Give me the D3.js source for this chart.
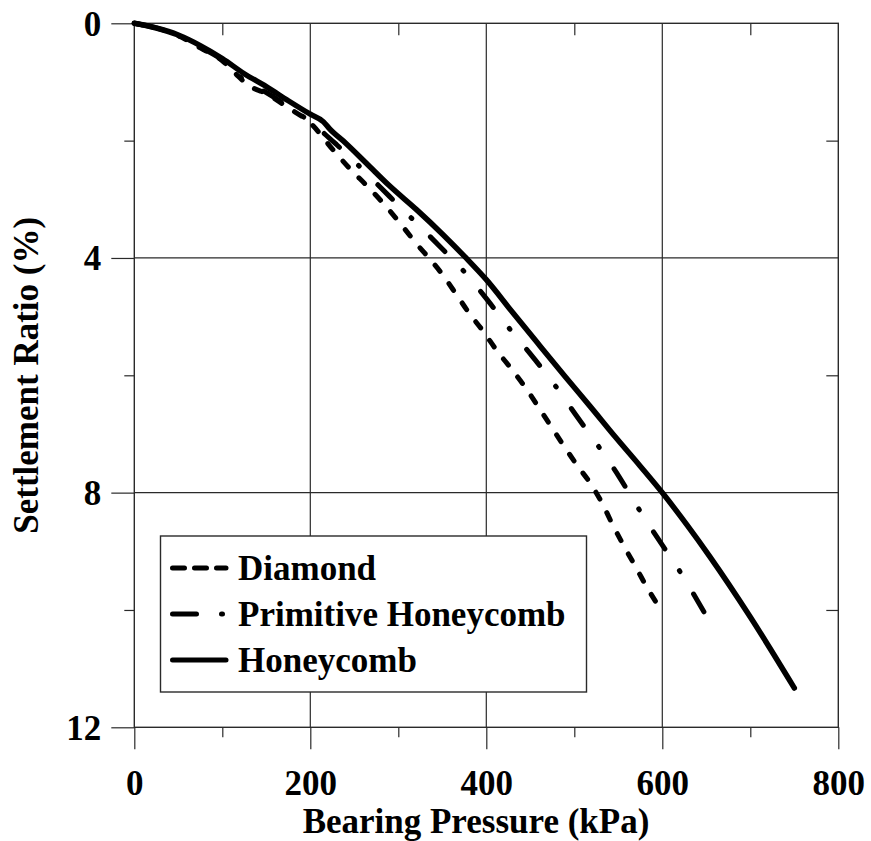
<!DOCTYPE html>
<html>
<head>
<meta charset="utf-8">
<script src="https://cdn.jsdelivr.net/npm/d3@7"></script>
<style>
  html, body { margin: 0; padding: 0; background: #fff; }
  svg { display: block; }
  text { font-family: "Liberation Serif", "Times New Roman", serif; font-weight: bold; fill: #000; }
</style>
</head>
<body>
<svg id="chart" width="871" height="841"></svg>
<script>
// Bearing pressure (kPa) vs settlement ratio (%) for three cell geometries
const diamondPressure = [0, 25, 50, 75, 100, 118, 128, 150, 175, 200, 226, 245, 265, 283, 300, 317, 351, 365, 380, 397, 412, 429, 445, 460, 474, 488, 503, 520, 533, 542, 556, 571, 582, 601];
const diamondSettle   = [0, 0.08, 0.21, 0.42, 0.64, 0.9, 1.04, 1.2, 1.44, 1.7, 2.16, 2.48, 2.78, 3.07, 3.37, 3.69, 4.3, 4.6, 4.93, 5.26, 5.58, 5.9, 6.22, 6.56, 6.88, 7.2, 7.53, 7.88, 8.22, 8.5, 8.9, 9.3, 9.6, 10.05];

const primitivePressure = [0, 25, 50, 75, 100, 118, 128, 150, 175, 200, 230, 256, 290, 317, 347, 374, 401, 425, 453, 479, 501, 527, 551, 570, 594, 619, 648];
const primitiveSettle   = [0, 0.08, 0.21, 0.41, 0.63, 0.88, 1.0, 1.18, 1.42, 1.68, 2.07, 2.44, 2.95, 3.35, 3.8, 4.22, 4.71, 5.18, 5.69, 6.19, 6.66, 7.2, 7.73, 8.2, 8.76, 9.32, 10.05];

const honeycombPressure = [0, 25, 50, 75, 100, 125, 150, 175, 200, 215, 222, 240, 264, 290, 321, 350, 377, 400, 430, 461, 490, 518, 546, 575, 601, 628, 654, 700, 750];
const honeycombSettle   = [0, 0.08, 0.2, 0.38, 0.6, 0.86, 1.08, 1.32, 1.55, 1.68, 1.8, 2.04, 2.39, 2.77, 3.18, 3.59, 4.0, 4.37, 4.93, 5.5, 6.03, 6.53, 7.04, 7.55, 8.02, 8.55, 9.09, 10.12, 11.33];

const seriesNames = ["Diamond", "Primitive Honeycomb", "Honeycomb"];
const xTicks = [0, 200, 400, 600, 800];
const xMinorTicks = [100, 300, 500, 700];
const yTicks = [0, 4, 8, 12];
const yMinorTicks = [2, 6, 10];

const series = [
  { name: seriesNames[0], x: diamondPressure, y: diamondSettle, dash: "8,15.2", width: 5, legendDash: "12,10" },
  { name: seriesNames[1], x: primitivePressure, y: primitiveSettle, dash: "20.5,26.3,1,26.3", width: 5, legendDash: "24,25,1,30" },
  { name: seriesNames[2], x: honeycombPressure, y: honeycombSettle, dash: null, width: 5.5, legendDash: null }
];

const svg = d3.select("#chart");
const plotLeft = 134.3, plotRight = 838.3, plotTop = 23.3, plotBottom = 727.3;

const x = d3.scaleLinear().domain([0, 800]).range([plotLeft, plotRight]);
const y = d3.scaleLinear().domain([0, 12]).range([plotTop, plotBottom]);

const gridColor = "#2a2a2a";

// Gridlines at the major ticks
const grid = svg.append("g").attr("stroke", gridColor).attr("stroke-width", 1.2);
grid.selectAll(".gx").data(xTicks.slice(1, -1)).join("line")
  .attr("x1", d => x(d)).attr("x2", d => x(d)).attr("y1", plotTop).attr("y2", plotBottom);
grid.selectAll(".gy").data(yTicks.slice(1, -1)).join("line")
  .attr("y1", d => y(d)).attr("y2", d => y(d)).attr("x1", plotLeft).attr("x2", plotRight);

// Frame around the plot area
svg.append("rect")
  .attr("x", plotLeft).attr("y", plotTop).attr("width", plotRight - plotLeft).attr("height", plotBottom - plotTop)
  .attr("fill", "none").attr("stroke", gridColor).attr("stroke-width", 1.4);

function styleTicks(g) {
  g.select(".domain").remove();
  g.selectAll(".tick line").attr("stroke", gridColor).attr("stroke-width", 1.2);
  g.selectAll(".tick text").attr("font-size", 35).attr("font-family", "Liberation Serif")
    .attr("font-weight", "bold").attr("fill", "#000");
}

// Bottom axis: long outward major ticks, short minor ticks
const gx = svg.append("g").attr("transform", `translate(0,${plotBottom})`)
  .call(d3.axisBottom(x).tickValues(xTicks).tickSize(22).tickPadding(22).tickFormat(d3.format("d")))
  .call(styleTicks);
gx.selectAll(".tick text").attr("y", 43).attr("dy", "0.71em");

svg.append("g").attr("transform", `translate(0,${plotBottom})`)
  .call(d3.axisBottom(x).tickValues(xMinorTicks).tickSize(10).tickFormat(""))
  .call(styleTicks);

svg.append("g").attr("transform", `translate(0,${plotTop})`)
  .call(d3.axisBottom(x).tickValues(xMinorTicks).tickSize(12).tickFormat(""))
  .call(styleTicks);

// Left axis
const gy = svg.append("g").attr("transform", `translate(${plotLeft},0)`)
  .call(d3.axisLeft(y).tickValues(yTicks).tickSize(23).tickPadding(10).tickFormat(d3.format("d")))
  .call(styleTicks);
gy.selectAll(".tick text").attr("x", -33).attr("dy", "0.34em");

svg.append("g").attr("transform", `translate(${plotLeft},0)`)
  .call(d3.axisLeft(y).tickValues(yMinorTicks).tickSize(10).tickFormat(""))
  .call(styleTicks);

svg.append("g").attr("transform", `translate(${plotRight},0)`)
  .call(d3.axisLeft(y).tickValues(yMinorTicks).tickSize(12).tickFormat(""))
  .call(styleTicks);

// Axis titles
svg.append("text").attr("x", 476).attr("y", 833).attr("text-anchor", "middle")
  .attr("font-size", 35).text("Bearing Pressure (kPa)");
svg.append("text").attr("transform", `translate(38,${(plotTop + plotBottom) / 2}) rotate(-90)`)
  .attr("text-anchor", "middle").attr("font-size", 35).text("Settlement Ratio (%)");

// Curves
const line = d3.line().x(d => x(d[0])).y(d => y(d[1])).curve(d3.curveMonotoneX);
svg.append("g").selectAll("path").data(series).join("path")
  .attr("d", s => line(s.x.map((v, i) => [v, s.y[i]])))
  .attr("fill", "none").attr("stroke", "#000").attr("stroke-width", s => s.width)
  .attr("stroke-linecap", s => s.dash ? "round" : "round")
  .attr("stroke-linejoin", "round")
  .attr("stroke-dasharray", s => s.dash);

// Legend
const lg = svg.append("g");
lg.append("rect").attr("x", 160.5).attr("y", 536).attr("width", 426).attr("height", 156)
  .attr("fill", "#fff").attr("stroke", gridColor).attr("stroke-width", 1.4);
const rows = lg.selectAll(".row").data(series).join("g")
  .attr("transform", (d, i) => `translate(0,${580 + i * 46})`);
rows.append("line").attr("x1", 172.5).attr("x2", (d, i) => i === 1 ? 223 : 226).attr("y1", -12).attr("y2", -12)
  .attr("stroke", "#000").attr("stroke-width", 5)
  .attr("stroke-linecap", "round")
  .attr("stroke-dasharray", d => d.legendDash);
rows.append("text").attr("x", 238).attr("y", 0).attr("font-size", 35).text(d => d.name);
</script>
</body>
</html>
